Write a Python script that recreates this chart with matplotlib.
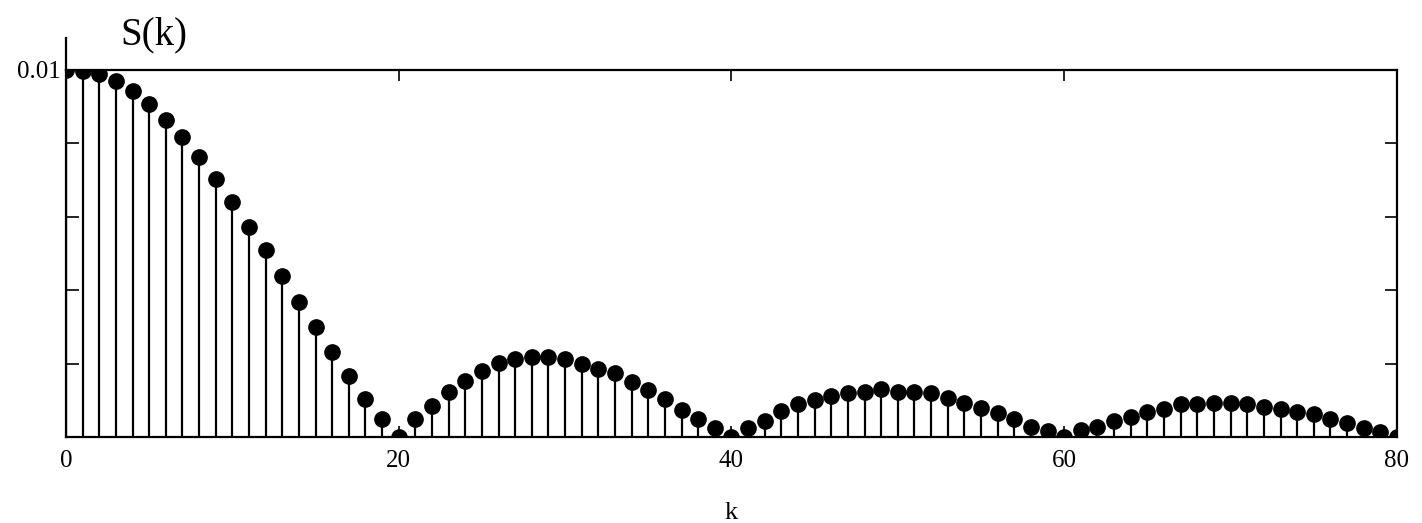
import matplotlib.pyplot as plt
import numpy as np

# values (k = 0..80)
k = list(range(81))
S = [0.01, 0.00998, 0.0099, 0.0097, 0.00944, 0.00907, 0.00864, 0.00818, 0.00762, 0.00703,
     0.00641, 0.00571, 0.0051, 0.00439, 0.00369, 0.00299, 0.00231, 0.00167, 0.00104, 0.00048,
     0.0, 0.00048, 0.00084, 0.00124, 0.00153, 0.0018, 0.00201, 0.00213, 0.00219, 0.00219,
     0.00212, 0.00198, 0.00185, 0.00174, 0.00151, 0.00128, 0.00104, 0.00074, 0.00048, 0.00024,
     0.0, 0.00024, 0.00044, 0.0007, 0.0009, 0.00101, 0.00112, 0.00121, 0.00124, 0.0013,
     0.00124, 0.00124, 0.00119, 0.00105, 0.00093, 0.00078, 0.00066, 0.00048, 0.00028, 0.00016,
     0.0, 0.00019, 0.00027, 0.00044, 0.00055, 0.00069, 0.00076, 0.0009, 0.0009, 0.00094,
     0.00094, 0.0009, 0.00083, 0.00076, 0.00069, 0.00062, 0.00048, 0.00037, 0.00024, 0.00015,
     0.0]
xticks = [0, 20, 40, 60, 80]
yticks = [0, 0.002, 0.004, 0.006, 0.008, 0.01]
ytick_labels = ['', '', '', '', '', '0.01']

plt.rcParams['font.family'] = 'Liberation Serif'

fig = plt.figure(figsize=(14.22, 5.23), dpi=100)
ax = fig.add_axes([0.0464, 0.1644, 0.936, 0.7018])

ax.vlines(k, 0, S, color='black', lw=1.6)
ax.plot(k, S, 'o', color='black', ms=11)

ax.set_xlim(0, 80)
ax.set_ylim(0, 0.01)
ax.set_xticks(xticks)
ax.set_xticklabels([str(t) for t in xticks], fontsize=18)
ax.set_yticks(yticks)
ax.set_yticklabels(ytick_labels, fontsize=18)
ax.tick_params(axis='x', direction='in', top=True, bottom=True, length=8, width=1.2, pad=9, colors='black')
ax.tick_params(axis='y', direction='in', left=True, right=True, length=9, width=1.2, pad=4)
for lbl in ax.get_yticklabels():
    lbl.set_va('center_baseline')
for sp in ax.spines.values():
    sp.set_linewidth(1.6)

# left axis sticks up above the frame
ax.plot([0, 0], [1, 1.087], color='black', lw=1.6, transform=ax.transAxes, clip_on=False)

ax.text(0.041, 1.045, 'S(k)', transform=ax.transAxes, fontsize=28, va='bottom', ha='left')
ax.set_xlabel('k', fontsize=19, labelpad=22)

fig.savefig('out.png', dpi=100)
